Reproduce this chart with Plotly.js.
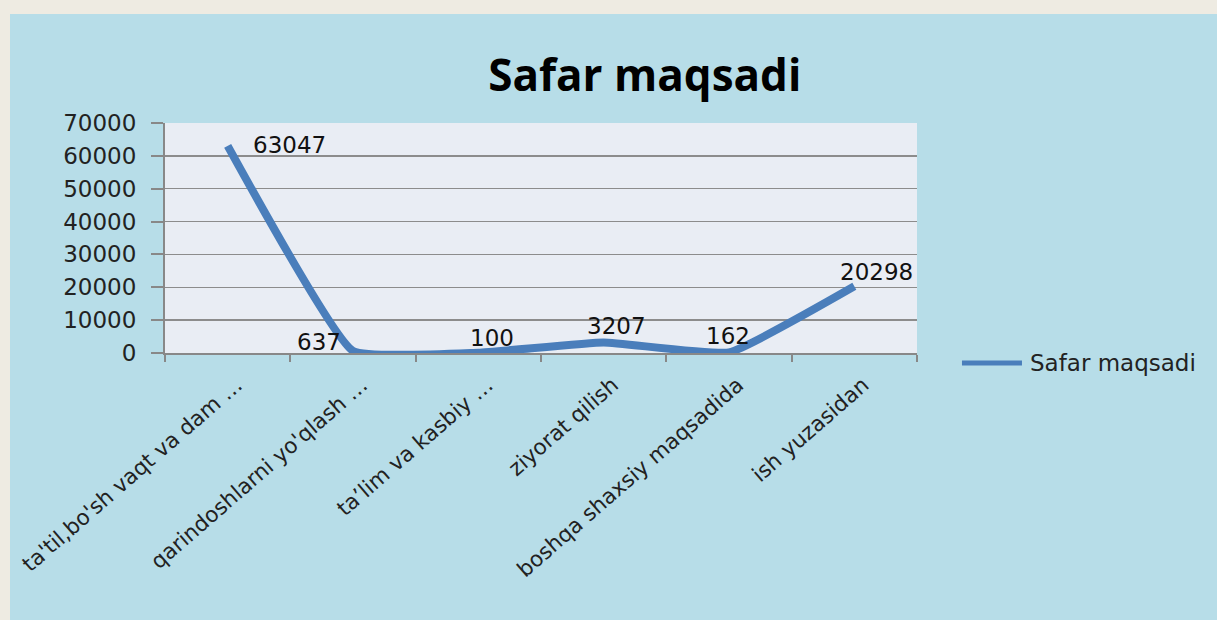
<!DOCTYPE html>
<html>
<head>
<meta charset="utf-8">
<script src="https://cdn.plot.ly/plotly-3.0.1.min.js"></script>
<style>
  html, body { margin:0; padding:0; background:#EEEBE2; width:1217px; height:620px; overflow:hidden; }
  #chart { position:absolute; left:10px; top:14px; width:1207px; height:606px; }
</style>
</head>
<body>
<div id="chart"></div>
<script>
const categories = [
  "ta'til,bo'sh vaqt va dam …",
  "qarindoshlarni yo'qlash …",
  "ta’lim va kasbiy …",
  "ziyorat qilish",
  "boshqa shaxsiy maqsadida",
  "ish yuzasidan"
];
const values = [63047, 637, 100, 3207, 162, 20298];
const seriesName = "Safar maqsadi";
const chartTitle = "Safar maqsadi";

// label offsets (px) relative to each point
const labelShiftX = [62, -34, 14, 13, -1, 22];
const labelShiftY = [1, 9, 15, 16, 16, 14];

const lineColor = '#4A7EBB';

const trace = {
  type: 'scatter',
  mode: 'lines',
  x: categories,
  y: values,
  name: seriesName,
  line: { color: lineColor, width: 8, shape: 'spline', smoothing: 0.35 },
  cliponaxis: false,
  showlegend: false,
  hoverinfo: 'x+y'
};

const annotations = values.map((v, i) => ({
  x: categories[i], y: v, xref: 'x', yref: 'y',
  text: String(v), showarrow: false,
  xshift: labelShiftX[i], yshift: labelShiftY[i],
  font: { family: 'DejaVu Sans', size: 23, color: '#111' }
}));

// manual legend (text + line sample)
annotations.push({
  xref: 'paper', yref: 'paper', x: 1.1476, y: -0.043,
  xanchor: 'left', yanchor: 'middle', showarrow: false,
  text: seriesName,
  font: { family: 'DejaVu Sans', size: 23, color: '#222' }
});

const layout = {
  width: 1207, height: 606,
  paper_bgcolor: '#B7DDE8',
  plot_bgcolor: '#E9EDF4',
  margin: { l: 155, r: 300, t: 109, b: 267 },
  title: {
    text: '<b>' + chartTitle + '</b>',
    font: { family: 'Open Sans', size: 44, color: '#000' },
    xref: 'paper', x: 0.638, xanchor: 'center',
    yref: 'container', y: 0.899, yanchor: 'middle'
  },
  xaxis: {
    type: 'category',
    range: [-0.5, 5.5],
    tickson: 'boundaries',
    ticks: 'outside', ticklen: 7, tickcolor: '#888', tickwidth: 2,
    showline: true, linecolor: '#888', linewidth: 2,
    showgrid: false,
    tickangle: -41,
    tickfont: { family: 'DejaVu Sans', size: 21.5, color: '#222' },
    ticklabelstandoff: 9,
    ticklabelshift: 9,
    fixedrange: true
  },
  yaxis: {
    range: [0, 70000], dtick: 10000, tickformat: 'd',
    ticks: 'outside', ticklen: 12, tickcolor: '#888', tickwidth: 2,
    showline: true, linecolor: '#888', linewidth: 2,
    gridcolor: '#8C8C8C', gridwidth: 1.5,
    zeroline: false,
    tickfont: { family: 'DejaVu Sans', size: 23, color: '#222' },
    ticklabelstandoff: 10,
    fixedrange: true
  },
  shapes: [{
    type: 'line', xref: 'paper', yref: 'paper',
    x0: 1.0598, x1: 1.1396, y0: -0.043, y1: -0.043,
    line: { color: lineColor, width: 5 }
  }],
  annotations: annotations
};

Plotly.newPlot('chart', [trace], layout, { displayModeBar: false, staticPlot: true });
</script>
</body>
</html>
